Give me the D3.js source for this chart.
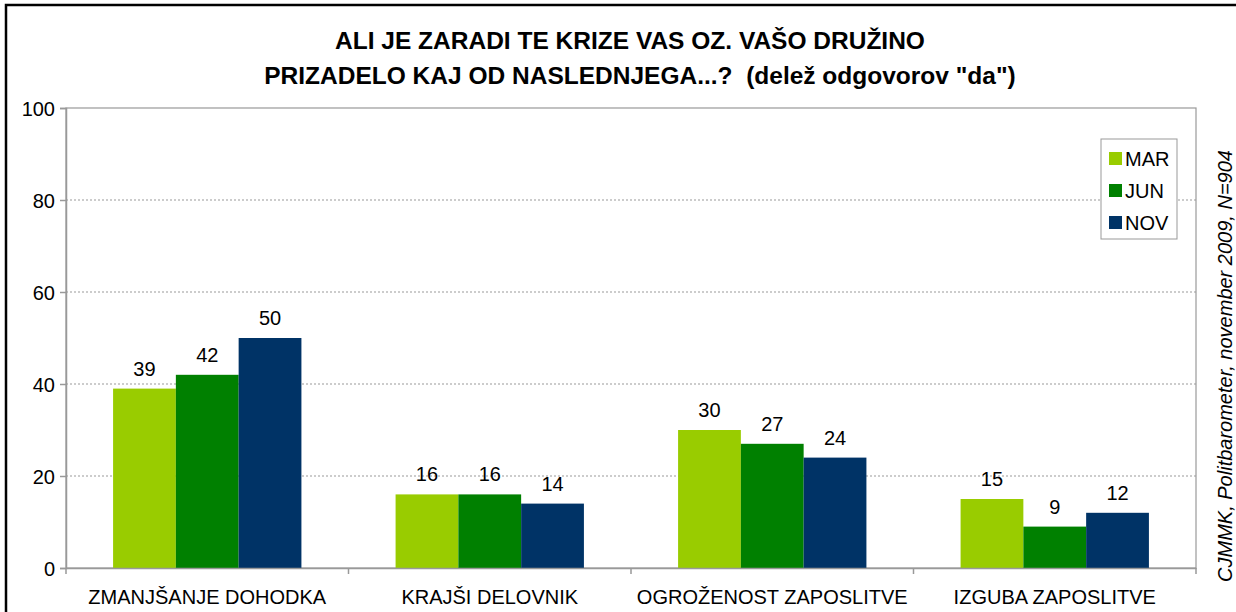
<!DOCTYPE html>
<html lang='en'>
<head>
	<meta charset='utf-8'>
	<title>Kriza</title>
	<script src="https://d3js.org/d3.v7.min.js"></script>
	<style>
		body{margin:0;background:#fff;}
		text{font-family:"Liberation Sans",Arial,sans-serif;fill:#000;}
	</style>
</head>
<body>
<div id='chart'></div>
<script type='text/javascript'>
	// data
	const categories = ["ZMANJŠANJE DOHODKA","KRAJŠI DELOVNIK","OGROŽENOST ZAPOSLITVE","IZGUBA ZAPOSLITVE"];
	const series = ["MAR","JUN","NOV"];
	const marValues = [39,16,30,15];
	const junValues = [42,16,27,9];
	const novValues = [50,14,24,12];
	const yTicks = [0,20,40,60,80,100];
	const titleLines = ["ALI JE ZARADI TE KRIZE VAS OZ. VAŠO DRUŽINO","PRIZADELO KAJ OD NASLEDNJEGA...?  (delež odgovorov \"da\")"];
	const sourceNote = "CJMMK, Politbarometer, november 2009, N=904";

	const colors = d3.scaleOrdinal().domain(series).range(['#99cc00','#008000','#003366']);
	const valuesBySeries = {MAR:marValues,JUN:junValues,NOV:novValues};

	const svg_block = {width:1236,height:612};
	let margin = {top:108,right:40,bottom:44,left:66};
	let width = svg_block.width - margin.left - margin.right;
	let height = svg_block.height - margin.top - margin.bottom;

	let svg = d3.select("#chart")
				.append("svg")
					.attr("width",svg_block.width)
					.attr("height",svg_block.height);

	// outer frame (top and left only visible)
	svg.append("path")
		.attr("d","M6,612V5H1236")
		.attr("fill","none").attr("stroke","#000").attr("stroke-width",2.5);

	// title
	let titleX = [630,640];
	titleLines.forEach(function(t,i){
		svg.append("text")
			.attr("x",titleX[i]).attr("y",49 + i*35)
			.attr("text-anchor","middle")
			.style("font-size","24.5px").style("font-weight","bold")
			.style("white-space","pre")
			.text(t);
	});

	let g = svg.append("g").attr("transform",`translate(${margin.left},${margin.top})`);

	let x = d3.scaleBand().domain(categories).range([0,width]).paddingInner(0).paddingOuter(0);
	let groupPad = x.bandwidth()/4.5*0.75;
	let xSub = d3.scaleBand().domain(series).range([groupPad, x.bandwidth()-groupPad]);
	let y = d3.scaleLinear().domain([0,100]).range([height,0]);

	// gridlines
	g.append("g")
		.selectAll("line")
		.data(yTicks.slice(1,-1))
		.enter()
		.append("line")
			.attr("x1",0).attr("x2",width)
			.attr("y1",d=>y(d)).attr("y2",d=>y(d))
			.attr("stroke","#999").attr("stroke-dasharray","2,2");

	// plot area border
	g.append("rect")
		.attr("x",0).attr("y",0).attr("width",width).attr("height",height)
		.attr("fill","none").attr("stroke","#999").attr("stroke-width",1.2);

	// bars
	let groups = g.append("g")
		.selectAll("g")
		.data(categories)
		.enter()
		.append("g")
			.attr("transform",d=>`translate(${x(d)},0)`);

	let cells = groups.selectAll("g")
		.data(function(d,i){
			return series.map(function(key){
				return {key:key,value:valuesBySeries[key][i]};
			});
		})
		.enter()
		.append("g");

	cells.append("rect")
		.attr("x",d=>xSub(d.key))
		.attr("y",d=>y(d.value))
		.attr("width",xSub.bandwidth())
		.attr("height",d=>height - y(d.value))
		.attr("fill",d=>colors(d.key));

	cells.append("text")
		.attr("x",d=>xSub(d.key)+xSub.bandwidth()/2)
		.attr("y",d=>y(d.value)-13)
		.attr("text-anchor","middle")
		.style("font-size","20px")
		.text(d=>d.value);

	// y axis
	let yAxis = g.append("g")
		.call(d3.axisLeft(y).tickValues(yTicks).tickSize(6).tickPadding(5));
	yAxis.selectAll("text").style("font-size","20px").attr("dy","0.35em").attr("fill","#000");
	yAxis.selectAll("line,path").attr("stroke","#999").attr("stroke-width",1.5);

	// x axis
	let xAxis = g.append("g")
		.attr("transform",`translate(0,${height})`)
		.call(d3.axisBottom(x).tickSize(0).tickPadding(22));
	xAxis.selectAll("text").style("font-size","20px").attr("fill","#000");
	xAxis.selectAll("path").attr("stroke","#999").attr("stroke-width",1.5);
	xAxis.append("g")
		.selectAll("line")
		.data(categories.concat(["end"]))
		.enter()
		.append("line")
			.attr("x1",(d,i)=>i*x.bandwidth()).attr("x2",(d,i)=>i*x.bandwidth())
			.attr("y1",0).attr("y2",6)
			.attr("stroke","#999").attr("stroke-width",1.5);

	// legend
	let legend = svg.append("g").attr("transform","translate(1101,139)");
	legend.append("rect")
		.attr("width",76).attr("height",100)
		.attr("fill","#fff").attr("stroke","#999");
	series.forEach(function(d,i){
		legend.append("rect").attr("x",8).attr("y",13 + 32*i).attr("width",13).attr("height",13).attr("fill",colors(d));
		legend.append("text").attr("x",24).attr("y",20 + 32*i).attr("dy","0.35em").style("font-size","20px").text(d);
	});

	// source note
	svg.append("text")
		.attr("transform","translate(1232,366) rotate(-90)")
		.attr("text-anchor","middle")
		.style("font-size","20px").style("font-style","italic")
		.text(sourceNote);
</script>
</body>
</html>
